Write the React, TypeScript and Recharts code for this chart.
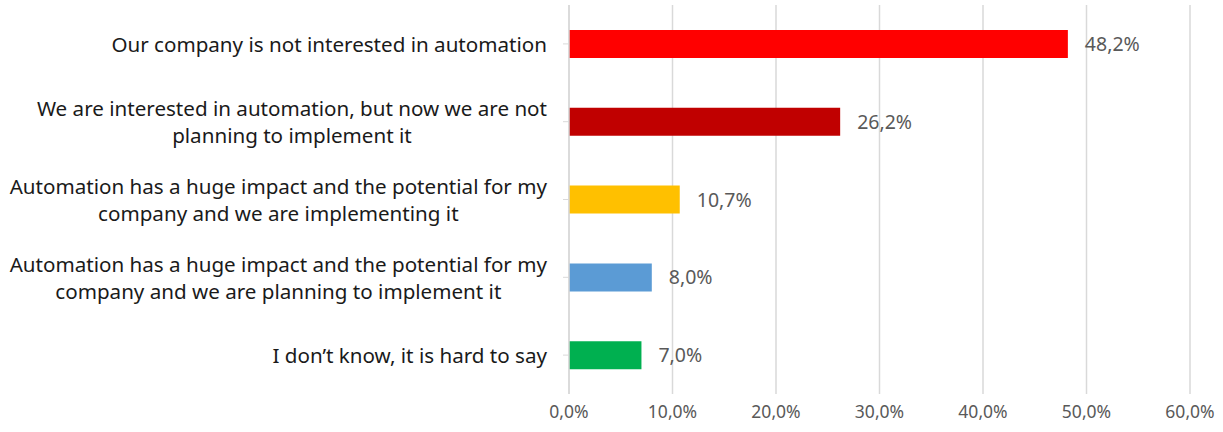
import React from "react";
import { BarChart, Bar, XAxis, YAxis, CartesianGrid, LabelList, Cell } from "recharts";

const categories = [
  "Our company is not interested in automation",
  "We are interested in automation, but now we are not\nplanning to implement it",
  "Automation has a huge impact and the potential for my\ncompany and we are implementing it",
  "Automation has a huge impact and the potential for my\ncompany and we are planning to implement it",
  "I don\u2019t know, it is hard to say",
];
const values = [48.2, 26.2, 10.7, 8.0, 7.0];
const colors = ["#FF0000", "#C00000", "#FFC000", "#5B9BD5", "#00B050"];
const xTicks = [0, 10, 20, 30, 40, 50, 60];

const data = categories.map((name, i) => ({ name, value: values[i] }));

const FONT = '"Noto Sans", sans-serif';
const LABEL_SIZE = 20.6;

const pct = (v: number) => v.toFixed(1).replace(".", ",") + "%";

let ctx: CanvasRenderingContext2D | null = null;
function measure(text: string) {
  if (!ctx) ctx = document.createElement("canvas").getContext("2d");
  if (!ctx) return text.length * LABEL_SIZE * 0.5;
  ctx.font = `${LABEL_SIZE}px "Noto Sans"`;
  return ctx.measureText(text).width;
}

function CategoryTick(props: any) {
  const { x, y, payload } = props;
  const lines = String(payload.value).split("\n");
  const block = Math.max(...lines.map(measure));
  const cx = x - 14 - block / 2;
  const lh = 27;
  const top = y - ((lines.length - 1) * lh) / 2;
  return (
    <text textAnchor="middle" dominantBaseline="central" fontFamily={FONT} fontSize={LABEL_SIZE} fill="#1a1a1a">
      {lines.map((l, i) => (
        <tspan key={i} x={cx} y={top + i * lh}>
          {l}
        </tspan>
      ))}
    </text>
  );
}

export default function App() {
  return (
    <div style={{ position: "absolute", left: 0, top: 0, background: "#fff" }}>
      <BarChart
        width={1223}
        height={432}
        data={data}
        layout="vertical"
        margin={{ top: 5, right: 33, bottom: 8, left: 0 }}
      >
        <CartesianGrid horizontal={false} stroke="#d9d9d9" strokeWidth={1.5} />
        <XAxis
          type="number"
          domain={[0, 60]}
          ticks={xTicks}
          tickFormatter={pct}
          axisLine={false}
          tickLine={false}
          tickMargin={6}
          height={30}
          interval={0}
          tick={{ fill: "#595959", fontSize: 17.5, fontFamily: FONT }}
        />
        <YAxis
          type="category"
          dataKey="name"
          width={569}
          axisLine={{ stroke: "#d9d9d9", strokeWidth: 1.5 }}
          tickLine={{ stroke: "#d9d9d9" }}
          tick={<CategoryTick />}
          interval={0}
        />
        <Bar dataKey="value" barSize={28} isAnimationActive={false}>
          {data.map((d, i) => (
            <Cell key={d.name} fill={colors[i]} />
          ))}
          <LabelList
            dataKey="value"
            position="right"
            offset={17}
            formatter={(v: any) => pct(Number(v))}
            fill="#595959"
            fontSize={19.5}
            fontFamily={FONT}
          />
        </Bar>
      </BarChart>
    </div>
  );
}
